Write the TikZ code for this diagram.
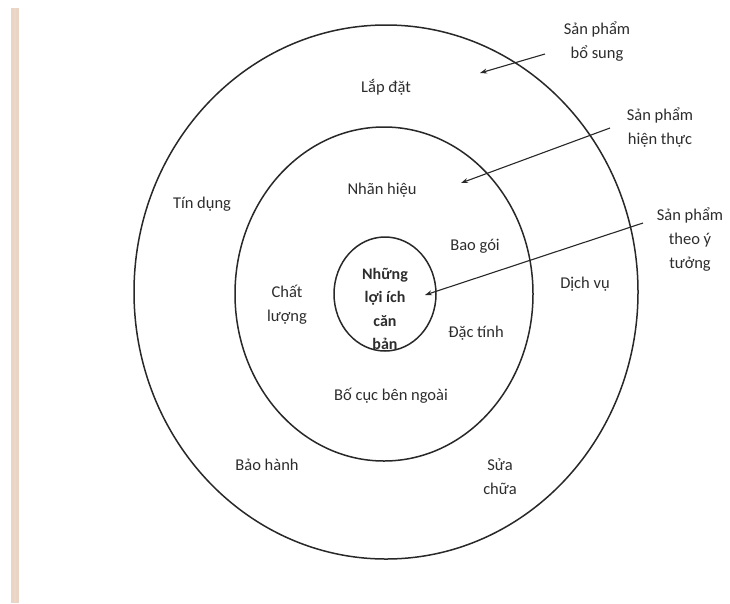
\documentclass[tikz,border=0pt]{standalone}
\usepackage{fontspec}
\setmainfont{Carlito}
\usetikzlibrary{arrows.meta}
\definecolor{ink}{RGB}{40,40,40}
\definecolor{txt}{RGB}{45,45,45}
\definecolor{bar}{RGB}{234,212,198}
\tikzset{
  ring/.style={draw=ink, line width=1.5pt},
  lbl/.style={text=txt, font=\fontsize{16.5}{24}\selectfont, align=center, inner sep=0pt},
  pointer/.style={draw=ink, line width=1.1pt, -{Stealth[length=7pt,width=5pt]}}
}
\begin{document}
\begin{tikzpicture}[x=1pt,y=-1pt]
\useasboundingbox (0,0) rectangle (730,603);
\fill[white] (0,0) rectangle (730,603);
\fill[bar] (11,8) rectangle (19,603);
\fill[bar!85!brown!70] (14,8) rectangle (16,603);
% rings
\coordinate (c) at (386,292);
\draw[ring] (c) ellipse [x radius=252, y radius=267];
\draw[ring] (384,294) ellipse [x radius=149, y radius=167];
\draw[ring] (385,294) ellipse [x radius=51, y radius=57];
% labels
\node[lbl] (bosung) at (597,42) {Sản phẩm\\bổ sung};
\node[lbl] (hienthuc) at (660,128) {Sản phẩm\\hiện thực};
\node[lbl] (ytuong) at (690,240) {Sản phẩm\\theo ý\\tưởng};
\node[lbl] (lapdat) at (386,87) {Lắp đặt};
\node[lbl] (tindung) at (202,204) {Tín dụng};
\node[lbl] (nhanhieu) at (382,190) {Nhãn hiệu};
\node[lbl] (baogoi) at (475,246) {Bao gói};
\node[lbl] (dichvu) at (585,284) {Dịch vụ};
\node[lbl] (chatluong) at (287,305) {Chất\\lượng};
\node[lbl, font=\fontsize{16}{23.5}\selectfont\bfseries] (core) at (385,309) {Những\\lợi ích\\căn\\bản};
\node[lbl] (dactinh) at (476,333) {Đặc tính};
\node[lbl] (bocuc) at (391,396) {Bố cục bên ngoài};
\node[lbl] (baohanh) at (267,465) {Bảo hành};
\node[lbl] (suachua) at (500,477) {Sửa\\chữa};
% pointers
\coordinate (a1s) at (545,54);
\coordinate (a1e) at (480,73);
\coordinate (a2s) at (610,128);
\coordinate (a2e) at (461,183);
\coordinate (a3s) at (643,223);
\coordinate (a3e) at (425,295);
\draw[pointer] (a1s) -- (a1e);
\draw[pointer] (a2s) -- (a2e);
\draw[pointer] (a3s) -- (a3e);
\end{tikzpicture}
\end{document}
